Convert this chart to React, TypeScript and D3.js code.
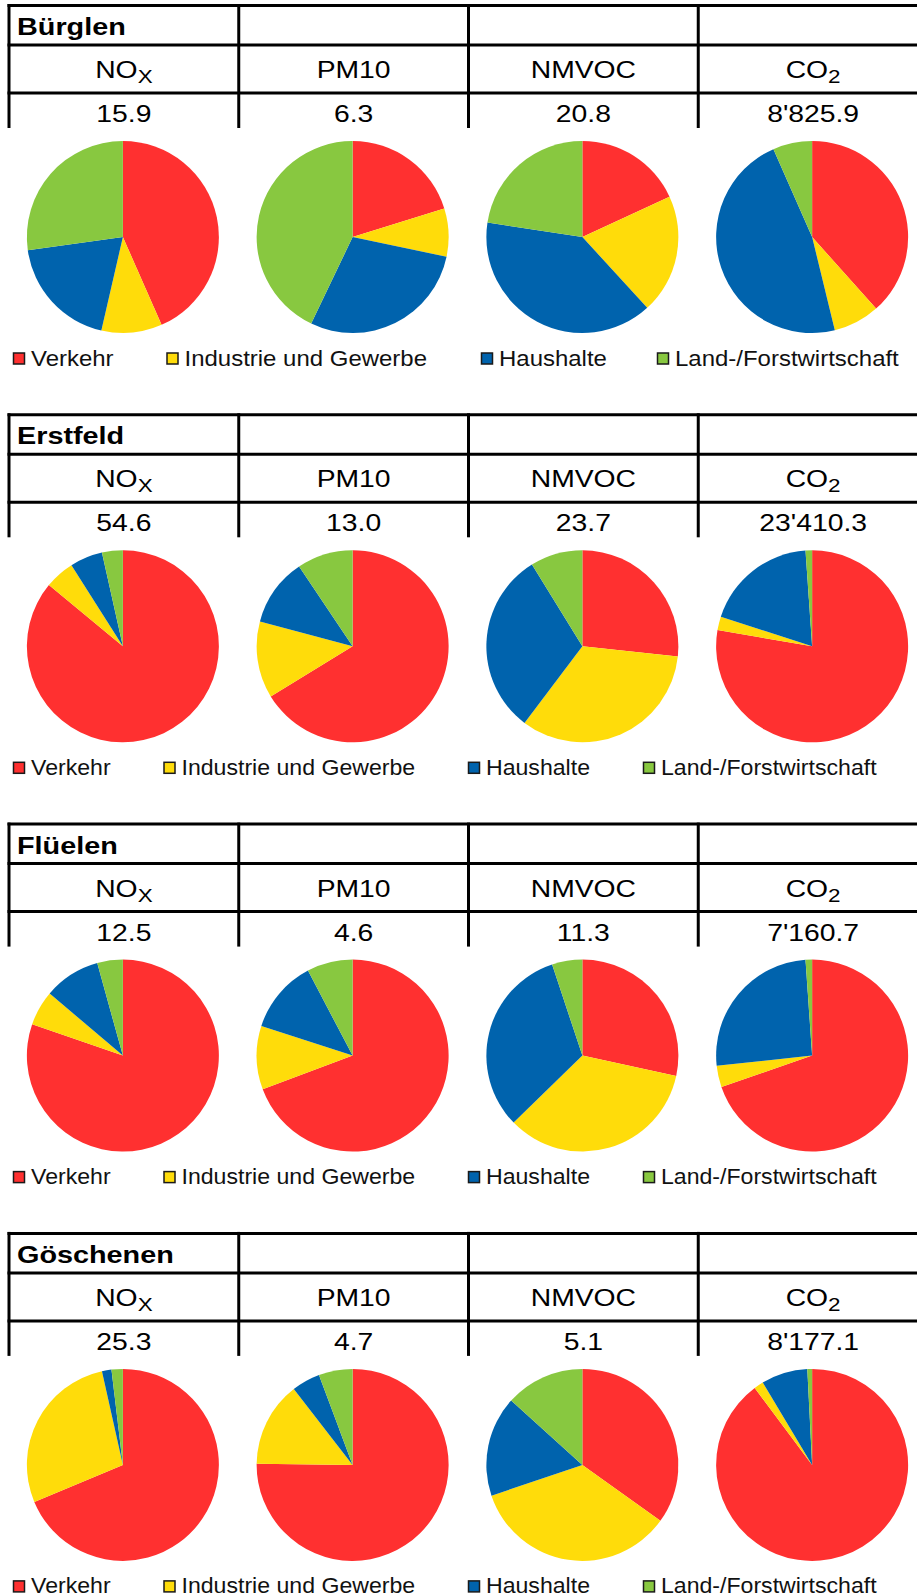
import * as d3 from "d3";

// regions, pollutants and legend entries
const regions = ["Bürglen", "Erstfeld", "Flüelen", "Göschenen"];
const pollutants = ["NO", "PM10", "NMVOC", "CO"];
const pollutantSubs = ["X", "", "", "2"];
const sources = ["Verkehr", "Industrie und Gewerbe", "Haushalte", "Land-/Forstwirtschaft"];
const sourceColors = ["#ff3030", "#ffdc0a", "#0063ad", "#88c840"];

// totals per pollutant (NOx, PM10, NMVOC, CO2)
const buerglenTotals = ["15.9", "6.3", "20.8", "8'825.9"];
const erstfeldTotals = ["54.6", "13.0", "23.7", "23'410.3"];
const flueelenTotals = ["12.5", "4.6", "11.3", "7'160.7"];
const goeschenenTotals = ["25.3", "4.7", "5.1", "8'177.1"];

// shares in % (Verkehr, Industrie und Gewerbe, Haushalte, Land-/Forstwirtschaft)
const buerglenShares = [
  [43.4, 10.2, 19.2, 27.2],
  [20.2, 8.1, 28.8, 42.9],
  [18.1, 20.1, 39.2, 22.6],
  [38.4, 7.8, 47.2, 6.6],
];
const erstfeldShares = [
  [86.0, 5.0, 5.5, 3.5],
  [66.2, 12.9, 11.4, 9.4],
  [26.7, 33.6, 30.9, 8.8],
  [77.7, 2.3, 18.9, 1.1],
];
const flueelenShares = [
  [80.3, 5.9, 9.5, 4.3],
  [69.3, 10.7, 12.3, 7.7],
  [28.4, 34.3, 32.2, 5.1],
  [69.7, 3.6, 25.6, 1.1],
];
const goeschenenShares = [
  [68.7, 27.8, 1.6, 1.9],
  [75.2, 14.3, 4.8, 5.7],
  [34.9, 34.9, 16.9, 13.3],
  [89.8, 1.6, 7.8, 0.8],
];

const totals = [buerglenTotals, erstfeldTotals, flueelenTotals, goeschenenTotals];
const shares = [buerglenShares, erstfeldShares, flueelenShares, goeschenenShares];

const W = 917;
const H = 1595;
const RADIUS = 96;
const FONT = "'Liberation Sans', Arial, Helvetica, sans-serif";

export default function App() {
  const sectionY = d3.scaleLinear().domain([0, 1]).range([5.5, 414.8]);
  const colX = d3.scaleBand<string>().domain(pollutants).range([9, 928]);
  const bw = colX.bandwidth();
  const pie = d3.pie<number>().sort(null).value((d) => d);
  const arc = d3.arc<d3.PieArcDatum<number>>().innerRadius(0).outerRadius(RADIUS);

  return (
    <svg
      width={W}
      height={H}
      style={{ position: "absolute", left: 0, top: 0, background: "#fff" }}
      fontFamily={FONT}
    >
      {regions.map((region, i) => {
        const T = sectionY(i);
        const legendX = i === 0 ? [13.5, 167, 481.5, 657.5] : [13.5, 164, 468.5, 643.5];
        const legendStretch = i === 0 ? 1.09 : 1.05;
        return (
          <g key={region}>
            {/* table grid */}
            {[0, 39.5, 87.5].map((dy) => (
              <line key={dy} x1={7.5} x2={W} y1={T + dy} y2={T + dy} stroke="#000" strokeWidth={3} />
            ))}
            {pollutants.map((p) => (
              <line
                key={p}
                x1={colX(p)!}
                x2={colX(p)!}
                y1={T - 1.5}
                y2={T + 122.5}
                stroke="#000"
                strokeWidth={3}
              />
            ))}
            <text
              transform={`translate(17,${T + 29.5}) scale(1.2,1)`}
              fontSize={24}
              fontWeight="bold"
            >
              {region}
            </text>
            {pollutants.map((p, j) => {
              const cx = colX(p)! + bw / 2;
              return (
                <g key={p}>
                  <text
                    transform={`translate(${cx},${T + 72.5}) scale(1.18,1)`}
                    textAnchor="middle"
                    fontSize={24}
                  >
                    {p}
                    {pollutantSubs[j] && (
                      <tspan fontSize={19} dy={5}>
                        {pollutantSubs[j]}
                      </tspan>
                    )}
                  </text>
                  <text
                    transform={`translate(${cx},${T + 116.5}) scale(1.18,1)`}
                    textAnchor="middle"
                    fontSize={24}
                  >
                    {totals[i][j]}
                  </text>
                  <g transform={`translate(${cx - 1},${T + 231.5})`}>
                    {pie(shares[i][j]).map((s, k) => (
                      <path key={k} d={arc(s)!} fill={sourceColors[k]} />
                    ))}
                  </g>
                </g>
              );
            })}
            {/* legend */}
            {sources.map((src, k) => (
              <g key={src}>
                <rect
                  x={legendX[k]}
                  y={T + 347.5}
                  width={11}
                  height={11}
                  fill={sourceColors[k]}
                  stroke="#1a1a1a"
                  strokeWidth={1.5}
                />
                <text
                  transform={`translate(${legendX[k] + 17.5},${T + 360}) scale(${legendStretch},1)`}
                  fontSize={22}
                  fill="#111"
                >
                  {src}
                </text>
              </g>
            ))}
          </g>
        );
      })}
    </svg>
  );
}
